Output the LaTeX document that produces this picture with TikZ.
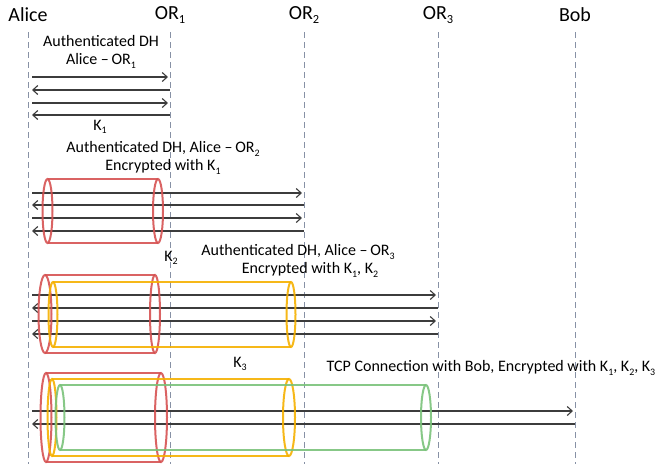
\documentclass[tikz,border=0pt]{standalone}
\usepackage{fontspec}
\setmainfont{Carlito}
\usetikzlibrary{arrows.meta}
\definecolor{cred}{RGB}{214,82,82}
\definecolor{corange}{RGB}{245,176,0}
\definecolor{cgreen}{RGB}{122,194,122}
\definecolor{clife}{RGB}{135,145,165}
\definecolor{carrow}{RGB}{60,60,60}
\newcommand\lo[1]{\raisebox{-0.45ex}{\scalebox{0.62}{#1}}}
\newcommand\cyl[7]{% color, x1, x2, ytop, ybot, rx left, rx right
  \draw[#1,cylline] (#2,#4) -- (#3,#4) (#2,#5) -- (#3,#5);
  \draw[#1,cylline] (#2,{(#4+#5)/2}) ellipse [x radius=#6, y radius={(#5-#4)/2}];
  \draw[#1,cylline] (#3,{(#4+#5)/2}) ellipse [x radius=#7, y radius={(#5-#4)/2}];
}
\begin{document}
\begin{tikzpicture}[x=1pt,y=-1pt,
  hdr/.style={inner sep=0pt, font=\fontsize{20}{22}\selectfont},
  lbl/.style={inner sep=0pt, align=center, font=\fontsize{16}{18}\selectfont},
  life/.style={clife, line width=1pt, dash pattern=on 6pt off 4pt},
  msg/.style={carrow, line width=1.1pt, -{Straight Barb[length=5pt,width=9pt]}},
  cylline/.style={line width=2pt, opacity=0.9}]
\useasboundingbox (0,0) rectangle (661,464);
% lifelines
\foreach \n/\x/\t in {alice/28/Alice, orA/170/OR\lo{1}, orB/304/OR\lo{2}, orC/438/OR\lo{3}, bob/575/Bob}{
  \node[hdr] (\n) at (\x,15) {\t};
  \coordinate (\n T) at (\x,32);
  \coordinate (\n B) at (\x,464);
  \draw[life] (\n T) -- (\n B);
}
% section 1 labels
\node[lbl] (t1a) at (101,41) {Authenticated DH};
\node[lbl] (t1b) at (101,61) {Alice –\,OR\lo{1}};
\node[lbl] (k1) at (100,127) {K\lo{1}};
% section 2 labels
\node[lbl] (t2a) at (163,149) {Authenticated DH, Alice –\,OR\lo{2}};
\node[lbl] (t2b) at (163,167) {Encrypted with K\lo{1}};
% section 3 labels
\node[lbl] (k2) at (171,258) {K\lo{2}};
\node[lbl] (t3a) at (298,252) {Authenticated DH, Alice –\,OR\lo{3}};
\node[lbl] (t3b) at (310,270) {Encrypted with K\lo{1}, K\lo{2}};
% section 4 labels
\node[lbl] (k3) at (240,364) {K\lo{3}};
\node[lbl] (t4) at (491,368) {TCP Connection with Bob, Encrypted with K\lo{1}, K\lo{2}, K\lo{3}};
% messages to the right
\foreach \i/\y/\xr in {1/77/168, 2/103/168, 3/193/302, 4/218/302, 5/295/436, 6/321/436, 7/411/573}{
  \coordinate (rL\i) at (32,\y);
  \coordinate (rR\i) at (\xr,\y);
  \draw[msg] (rL\i) -- (rR\i);
}
% messages to the left
\foreach \i/\y/\xr in {1/90/170, 2/115/170, 3/205/304, 4/231/304, 5/308/438, 6/334/438, 7/424/575}{
  \coordinate (lR\i) at (\xr,\y);
  \coordinate (lL\i) at (32,\y);
  \draw[msg] (lR\i) -- (lL\i);
}
% tunnels
\cyl{cred}{47.5}{158}{179}{243}{5}{5}
\cyl{cred}{45}{155}{275}{353}{6.5}{5}
\cyl{corange}{53}{291}{282}{347}{4.5}{4.5}
\cyl{cred}{46}{161}{373}{462}{5.5}{6}
\cyl{corange}{52}{289}{379}{456}{4.5}{6}
\cyl{cgreen}{60}{426}{385}{450}{4.5}{5}
\end{tikzpicture}
\end{document}
